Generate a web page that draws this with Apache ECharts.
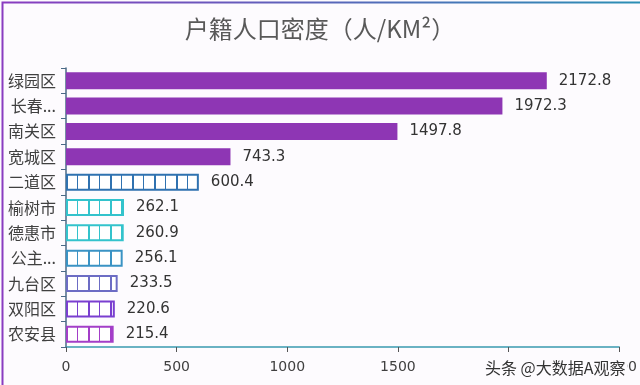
<!DOCTYPE html>
<html>
<head>
<meta charset="utf-8">
<script src="https://cdn.jsdelivr.net/npm/echarts@6/dist/echarts.min.js"></script>
<style>html,body{margin:0;padding:0;background:#fff}#c{width:640px;height:385px}</style>
</head>
<body>
<div id="c"></div>
<script>
var titleText = '户籍人口密度（人/KM²）';
var categories = ['绿园区','长春新区','南关区','宽城区','二道区','榆树市','德惠市','公主岭市','九台区','双阳区','农安县'];
var values = [2172.8,1972.3,1497.8,743.3,600.4,262.1,260.9,256.1,233.5,220.6,215.4];
var barColors = ['#8e36b4','#8e36b4','#8e36b4','#8e36b4','#2f72b0','#33c3cc','#33c3cc','#3a93c4','#6c6cc4','#7a3fd0','#a33ec8'];
var patterned = [false,false,false,false,true,true,true,true,true,true,true];
var xTicks = [0,500,1000,1500,2000,2500];
var watermark = '头条 @大数据A观察';

function makePattern(color){
  var c = document.createElement('canvas');
  c.width = 22; c.height = 4;
  var ctx = c.getContext('2d');
  ctx.fillStyle = '#ffffff'; ctx.fillRect(0,0,22,4);
  ctx.fillStyle = color;
  ctx.fillRect(0,0,2,4);
  ctx.fillRect(11,0,1,4);
  return c;
}

var seriesData = values.map(function(v,i){
  if (patterned[i]) {
    return {value: v, itemStyle: {color: {image: makePattern(barColors[i]), repeat: 'repeat'}, borderColor: barColors[i], borderWidth: 2}};
  }
  return {value: v, itemStyle: {color: barColors[i]}};
});

var chart = echarts.init(document.getElementById('c'), null, {renderer:'canvas'});
chart.setOption({
  animation: false,
  backgroundColor: '#fdfbfe',
  title: {text: titleText, left: 'center', top: 12,
    textStyle: {fontFamily: 'Noto Sans CJK SC', fontWeight: 'normal', fontSize: 24, color: '#595959'}},
  grid: {left: 66, right: 20, top: 68, bottom: 38, containLabel: false},
  xAxis: {type: 'value', min: xTicks[0], max: xTicks[xTicks.length-1], interval: 500,
    axisLine: {show: true, lineStyle: {color: '#3a9ab0', width: 1.5}},
    axisTick: {show: true, length: 5, lineStyle: {color: '#555'}},
    splitLine: {show: false},
    axisLabel: {fontFamily: 'DejaVu Sans', fontSize: 14, color: '#404040', margin: 13,
      formatter: function(v){ return String(v); }}},
  yAxis: {type: 'category', data: categories, inverse: true,
    axisLine: {show: true, lineStyle: {color: '#4a6a86', width: 1.5}},
    axisTick: {show: true, length: 5, lineStyle: {color: '#4a6a86'}},
    axisLabel: {fontFamily: 'Noto Sans CJK SC', fontSize: 16, color: '#404040', margin: 10,
      formatter: function(v){ return v.length > 3 ? v.slice(0,2) + '...' : v; }}},
  series: [{type: 'bar', data: seriesData, barWidth: 17,
    label: {show: true, position: 'right', distance: 12, fontFamily: 'DejaVu Sans', fontSize: 15, color: '#333'}}],
  graphic: [
    {type: 'rect', left: 0, top: 0, shape: {width: 639, height: 384}, silent: true, z: 100,
      style: {fill: 'none', lineWidth: 2,
        stroke: {type: 'linear', x: 0, y: 0, x2: 1, y2: 0, colorStops: [{offset: 0, color: '#8a3cc0'}, {offset: 1, color: '#2a8fb4'}]}}},
    {type: 'rect', silent: true, z: 101, shape: {x: 483, y: 358, width: 144, height: 22}, style: {fill: '#fdfbfe'}},
    {type: 'text', silent: true, z: 102, x: 485, y: 368,
      style: {text: watermark, font: '16px "Noto Sans CJK SC"', fill: '#333', verticalAlign: 'middle', align: 'left'}}
  ]
});
</script>
</body>
</html>
